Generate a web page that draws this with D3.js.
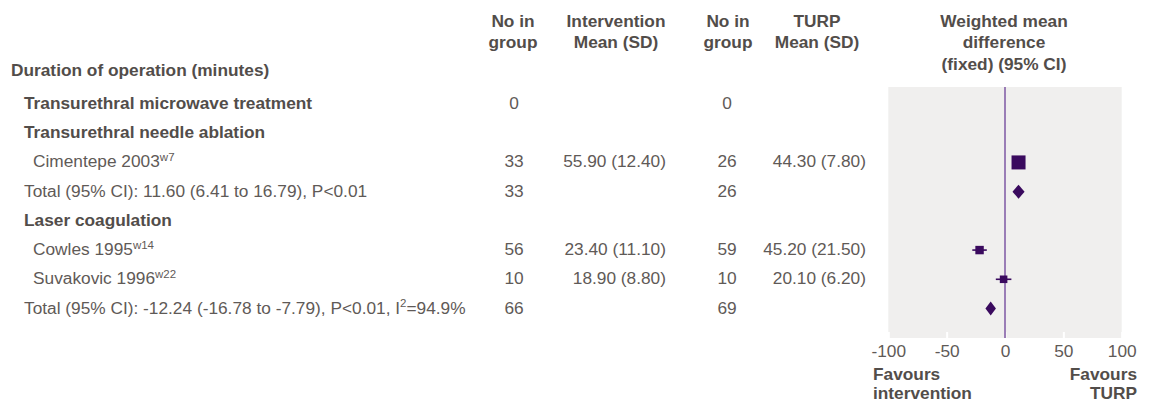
<!DOCTYPE html>
<html>
<head>
<meta charset="utf-8">
<script src="https://cdn.jsdelivr.net/npm/d3@7"></script>
<style>
  body { margin: 0; background: #fff; }
  svg { display: block; }
  .hd { font-family: "Liberation Sans", Arial, sans-serif; font-weight: bold; font-size: 17.3px; fill: #524d4a; }
  .tx { font-family: "Liberation Sans", Arial, sans-serif; font-size: 17.3px; fill: #5f5a57; }
</style>
</head>
<body>
<svg id="forest" width="1152" height="405"></svg>
<script>
// rows of the table, top to bottom
const rowLabels = ["Transurethral microwave treatment", "Transurethral needle ablation", "Cimentepe 2003",
  "Total (95% CI): 11.60 (6.41 to 16.79), P<0.01", "Laser coagulation", "Cowles 1995", "Suvakovic 1996",
  "Total (95% CI): -12.24 (-16.78 to -7.79), P<0.01, I"];
const rowKind = ["group", "group", "study", "total", "group", "study", "study", "total"];
const rowSup = ["", "", "w7", "", "", "w14", "w22", "2"];
const rowTail = ["", "", "", "", "", "", "", "=94.9%"];

const nInt = [0, null, 33, 33, null, 56, 10, 66];
const meanInt = [null, null, 55.9, null, null, 23.4, 18.9, null];
const sdInt = [null, null, 12.4, null, null, 11.1, 8.8, null];
const nTurp = [0, null, 26, 26, null, 59, 10, 69];
const meanTurp = [null, null, 44.3, null, null, 45.2, 20.1, null];
const sdTurp = [null, null, 7.8, null, null, 21.5, 6.2, null];

const wmd = [null, null, 11.6, 11.6, null, -21.8, -1.2, -12.24];
const ciLow = [null, null, 6.41, 6.41, null, -28.01, -7.87, -16.78];
const ciHigh = [null, null, 16.79, 16.79, null, -15.59, 5.47, -7.79];
const weight = [null, null, 100, 100, null, 53.6, 46.4, 100];

const xTicks = [-100, -50, 0, 50, 100];

const svg = d3.select("#forest");
const purple = "#3a0a5e";
const fmt = d3.format(".2f");

const x = d3.scaleLinear().domain([-100, 100]).range([888.3, 1121.7]);
const y = d3.scalePoint().domain(d3.range(rowLabels.length)).range([109, 313.5]);
const size = d3.scaleLinear().domain([0, 100]).range([2, 14]);
const plotTop = 87, plotBottom = 338;

// column headers
const headers = [
  { x: 513, lines: ["No in", "group"] },
  { x: 616, lines: ["Intervention", "Mean (SD)"] },
  { x: 728, lines: ["No in", "group"] },
  { x: 817, lines: ["TURP", "Mean (SD)"] },
  { x: 1004, lines: ["Weighted mean", "difference", "(fixed) (95% CI)"] }
];
svg.selectAll(".colhead").data(headers).join("text").attr("class", "colhead hd")
  .attr("text-anchor", "middle").attr("x", d => d.x).attr("y", 27)
  .selectAll("tspan").data(d => d.lines.map(l => ({ l, x: d.x }))).join("tspan")
  .attr("x", d => d.x).attr("dy", (d, i) => i ? 21.3 : 0).text(d => d.l);

svg.append("text").attr("class", "hd").attr("x", 11).attr("y", 76).text("Duration of operation (minutes)");

// plot background
svg.append("rect").attr("x", x(-100)).attr("y", plotTop).attr("width", x(100) - x(-100))
  .attr("height", plotBottom - plotTop).attr("fill", "#f0efee");

const axis = svg.append("g").attr("transform", `translate(0,${plotBottom})`)
  .call(d3.axisBottom(x).tickValues(xTicks).tickFormat(d => String(d))
    .tickSizeInner(-6).tickSizeOuter(0).tickPadding(7));
axis.select(".domain").remove();
axis.selectAll(".tick line").attr("stroke", "#fff").attr("stroke-width", 2);
axis.selectAll(".tick text").attr("class", "tx").attr("font-family", null).attr("font-size", null).attr("fill", null);

svg.append("line").attr("x1", x(0)).attr("x2", x(0)).attr("y1", plotTop).attr("y2", plotBottom)
  .attr("stroke", "#9a7db6").attr("stroke-width", 2);

// row labels
const idx = d3.range(rowLabels.length);
const lab = svg.selectAll(".rowlab").data(idx).join("text")
  .attr("class", i => rowKind[i] === "group" ? "rowlab hd" : "rowlab tx")
  .attr("x", i => rowKind[i] === "study" ? 33 : 24).attr("y", i => y(i));
lab.append("tspan").text(i => rowLabels[i]);
lab.filter(i => rowSup[i]).append("tspan").attr("font-size", "11.5px").attr("dy", -6.5).text(i => rowSup[i]);
lab.filter(i => rowTail[i]).append("tspan").attr("dy", 6.5).text(i => rowTail[i]);

// numeric columns
svg.selectAll(".nint").data(idx.filter(i => nInt[i] != null)).join("text").attr("class", "tx")
  .attr("text-anchor", "middle").attr("x", 514).attr("y", i => y(i)).text(i => nInt[i]);
svg.selectAll(".mint").data(idx.filter(i => meanInt[i] != null)).join("text").attr("class", "tx")
  .attr("text-anchor", "end").attr("x", 666).attr("y", i => y(i))
  .text(i => `${fmt(meanInt[i])} (${fmt(sdInt[i])})`);
svg.selectAll(".nturp").data(idx.filter(i => nTurp[i] != null)).join("text").attr("class", "tx")
  .attr("text-anchor", "middle").attr("x", 727).attr("y", i => y(i)).text(i => nTurp[i]);
svg.selectAll(".mturp").data(idx.filter(i => meanTurp[i] != null)).join("text").attr("class", "tx")
  .attr("text-anchor", "end").attr("x", 866).attr("y", i => y(i))
  .text(i => `${fmt(meanTurp[i])} (${fmt(sdTurp[i])})`);

// study estimates
const cy = i => y(i) - 5;
const studies = idx.filter(i => rowKind[i] === "study");
svg.selectAll(".ci").data(studies).join("line").attr("x1", i => x(ciLow[i])).attr("x2", i => x(ciHigh[i]))
  .attr("y1", cy).attr("y2", cy).attr("stroke", purple).attr("stroke-width", 1.6);
svg.selectAll(".sq").data(studies).join("rect")
  .attr("x", i => x(wmd[i]) - size(weight[i]) / 2).attr("y", i => cy(i) - size(weight[i]) / 2)
  .attr("width", i => size(weight[i])).attr("height", i => size(weight[i])).attr("fill", purple);

// pooled diamonds
svg.selectAll(".dia").data(idx.filter(i => rowKind[i] === "total")).join("path")
  .attr("d", i => `M${x(ciLow[i])},${cy(i)}L${x(wmd[i])},${cy(i) - 7}L${x(ciHigh[i])},${cy(i)}L${x(wmd[i])},${cy(i) + 7}Z`)
  .attr("fill", purple);

// favours labels
svg.append("text").attr("class", "hd").attr("x", 873).attr("y", 380)
  .selectAll("tspan").data(["Favours", "intervention"]).join("tspan")
  .attr("x", 873).attr("dy", (d, i) => i ? 19 : 0).text(d => d);
svg.append("text").attr("class", "hd").attr("text-anchor", "end").attr("x", 1137).attr("y", 380)
  .selectAll("tspan").data(["Favours", "TURP"]).join("tspan")
  .attr("x", 1137).attr("dy", (d, i) => i ? 19 : 0).text(d => d);
</script>
</body>
</html>
